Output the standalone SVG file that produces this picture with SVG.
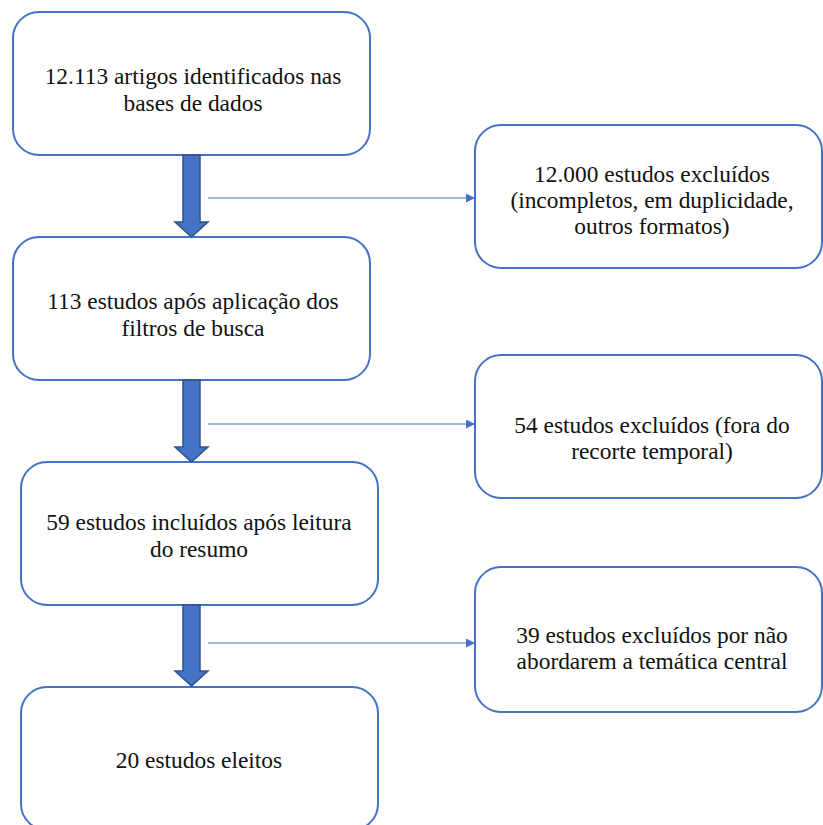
<svg xmlns="http://www.w3.org/2000/svg" width="823" height="825" viewBox="0 0 823 825">
<style>
.box{fill:#fff;stroke:#4472C4;stroke-width:2}
.t{font-family:'Times New Roman',Tinos,'Liberation Serif','DejaVu Serif',serif;font-size:23.4px;fill:#111;text-anchor:middle}
.block{fill:#4472C4;stroke:#2F528F;stroke-width:1.5;stroke-linejoin:miter}
.thin{stroke:#4472C4;stroke-width:1.2;fill:none}
</style>
<defs>
<marker id="ah" viewBox="0 0 10 10" refX="10" refY="5" markerWidth="9" markerHeight="9" markerUnits="userSpaceOnUse" orient="auto">
<path d="M0,0 L10,5 L0,10 Z" fill="#4472C4"/>
</marker>
</defs>
<rect width="823" height="825" fill="#fff"/>
<g id="n1"><rect class="box" x="13" y="12" width="357" height="143" rx="26"/>
<text class="t" x="193" y="84">12.113 artigos identificados nas</text>
<text class="t" x="193" y="111">bases de dados</text></g>
<g id="n2"><rect class="box" x="13" y="237" width="357" height="143" rx="26"/>
<text class="t" x="193" y="309">113 estudos após aplicação dos</text>
<text class="t" x="193" y="336">filtros de busca</text></g>
<g id="n3"><rect class="box" x="21" y="462" width="357" height="143" rx="26"/>
<text class="t" x="199" y="530">59 estudos incluídos após leitura</text>
<text class="t" x="199" y="557">do resumo</text></g>
<g id="n4"><rect class="box" x="21" y="687" width="357" height="143" rx="26"/>
<text class="t" x="199" y="768">20 estudos eleitos</text></g>
<g id="r1"><rect class="box" x="475" y="125" width="347" height="143" rx="26"/>
<text class="t" x="652" y="182">12.000 estudos excluídos</text>
<text class="t" x="652" y="208">(incompletos, em duplicidade,</text>
<text class="t" x="652" y="234">outros formatos)</text></g>
<g id="r2"><rect class="box" x="475" y="355" width="347" height="143" rx="26"/>
<text class="t" x="652" y="433">54 estudos excluídos (fora do</text>
<text class="t" x="652" y="459">recorte temporal)</text></g>
<g id="r3"><rect class="box" x="475" y="567" width="347" height="145" rx="26"/>
<text class="t" x="652" y="643">39 estudos excluídos por não</text>
<text class="t" x="652" y="669">abordarem a temática central</text></g>
<g id="connectors">
<path class="block" d="M183,155 H200 V222 H208 L191.5,237 L175,222 H183 Z"/>
<path class="block" d="M183,380 H200 V447 H208 L191.5,462 L175,447 H183 Z"/>
<path class="block" d="M183,605 H200 V671 H208 L191.5,686 L175,671 H183 Z"/>
<line class="thin" x1="208" y1="198" x2="475" y2="198" marker-end="url(#ah)"/>
<line class="thin" x1="208" y1="424" x2="475" y2="424" marker-end="url(#ah)"/>
<line class="thin" x1="208" y1="643" x2="475" y2="643" marker-end="url(#ah)"/>
</g>
</svg>
